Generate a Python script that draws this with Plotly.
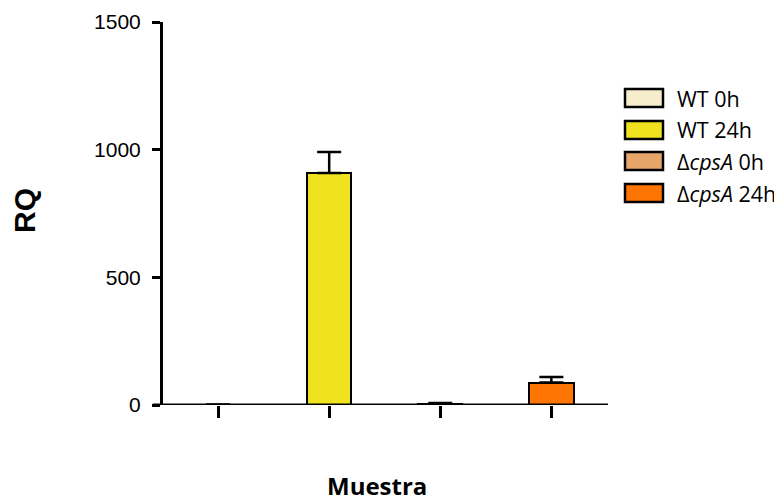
import plotly.graph_objects as go

categories = ["WT 0h", "WT 24h", "ΔcpsA 0h", "ΔcpsA 24h"]
legend_labels = ["WT 0h", "WT 24h", "Δ<i>cpsA</i> 0h", "Δ<i>cpsA</i> 24h"]
rq_values = [1, 909, 3, 88]
rq_errors = [0.5, 82, 5, 22]
colors = ["#F5EDCB", "#EEE31E", "#E6A66A", "#FF7504"]
y_ticks = [0, 500, 1000, 1500]

OFF = 8  # page body margin
W, H = 782 - OFF, 502 - OFF
L, R, T, B = 163 - OFF, 608 - OFF, 22 - OFF, 405 - OFF
pw, ph = R - L, B - T

fig = go.Figure()
fig.add_trace(go.Bar(
    x=list(range(len(categories))), y=rq_values, width=0.4,
    marker=dict(color=colors, line=dict(color="black", width=2)),
    error_y=dict(type="data", symmetric=False, array=rq_errors,
                 arrayminus=[0] * len(rq_errors), color="black", thickness=2.5, width=12),
    showlegend=False, hovertext=categories,
))

shapes = [dict(type="line", xref="x domain", yref="y", x0=-10 / pw, x1=1, y0=0, y1=0,
               line=dict(color="black", width=3), layer="above")]
annotations = []
rows = [98, 130, 161, 193]
for lab, col, yc in zip(legend_labels, colors, rows):
    yp = (B - (yc - OFF)) / ph
    shapes.append(dict(type="rect", xref="paper", yref="paper",
                       x0=(625 - OFF - L) / pw, x1=(663 - OFF - L) / pw,
                       y0=yp - 9 / ph, y1=yp + 9 / ph,
                       fillcolor=col, line=dict(color="black", width=2.5)))
    annotations.append(dict(text=lab, xref="paper", yref="paper", x=(675 - OFF - L) / pw, y=yp,
                            xanchor="left", yanchor="middle", showarrow=False,
                            font=dict(family="Open Sans", size=21.5, color="black")))

annotations.append(dict(text="<b>RQ</b>", xref="paper", yref="paper", x=(24 - OFF - L) / pw,
                        y=(B - (211 - OFF)) / ph,
                        textangle=-90, showarrow=False, xanchor="center", yanchor="middle",
                        font=dict(family="Liberation Sans, Arial", size=30, color="black")))
annotations.append(dict(text="<b>Muestra</b>", xref="paper", yref="paper", x=(377 - OFF - L) / pw,
                        y=(B - (485 - OFF)) / ph, showarrow=False, xanchor="center", yanchor="middle",
                        font=dict(family="Open Sans", size=24, color="black")))

fig.update_layout(
    width=W, height=H, margin=dict(l=L, r=W - R, t=T, b=H - B),
    plot_bgcolor="white", paper_bgcolor="white",
    shapes=shapes, annotations=annotations, bargap=0,
    xaxis=dict(range=[-0.496, 3.51], tickvals=[0, 1, 2, 3], showticklabels=False,
               ticks="outside", ticklen=12, tickwidth=3, tickcolor="black", automargin=False,
               showline=False, showgrid=False, zeroline=False),
    yaxis=dict(range=[0, 1500], tickvals=y_ticks, ticks="outside", ticklen=8, tickwidth=3,
               tickcolor="black", showline=True, linewidth=3, linecolor="black",
               showgrid=False, zeroline=False, ticklabelstandoff=7, automargin=False,
               tickfont=dict(family="Liberation Sans, Arial", size=21, color="black")),
)
fig.write_html("out.html")
